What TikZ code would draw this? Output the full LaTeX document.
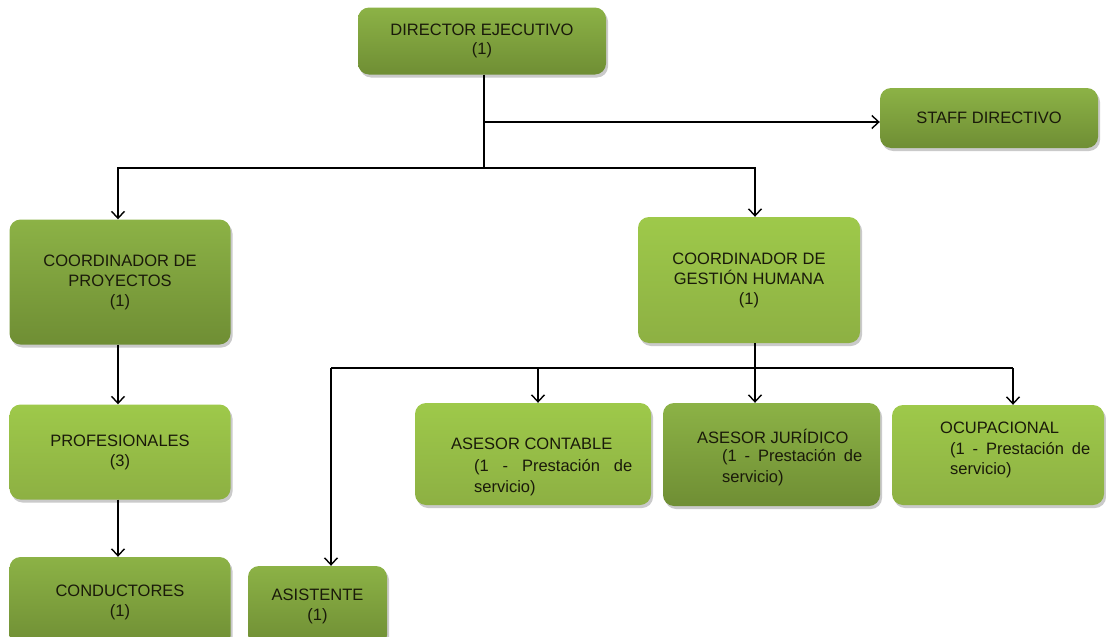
\documentclass[tikz,border=0pt]{standalone}
\usepackage{fontspec}
\setmainfont{Liberation Sans}
\usetikzlibrary{arrows.meta,shadows}
\definecolor{dtop}{HTML}{8CB246}
\definecolor{dmid}{HTML}{78983A}
\definecolor{dbot}{HTML}{6F8E34}
\definecolor{ltop}{HTML}{9EC94A}
\definecolor{lmid}{HTML}{98C046}
\definecolor{lbot}{HTML}{8DB043}
\definecolor{txt}{HTML}{1A1A0A}
\newcommand{\lblfont}{\fontsize{16.5}{20}\selectfont}
\tikzset{
  box/.style={rounded corners=11pt, draw=none, inner sep=0pt, align=center,
    font=\lblfont, text=txt,
    drop shadow={shadow xshift=2pt, shadow yshift=-3pt, fill=black!35, opacity=0.6}},
  darkbox/.style={box, top color=dtop, middle color=dmid, bottom color=dbot},
  lightbox/.style={box, top color=ltop, middle color=lmid, bottom color=lbot},
  conn/.style={line width=1.4pt, black},
  arr/.style={conn, -{Straight Barb[length=7pt,width=13pt,line width=1.4pt]}},
  plain/.style={font=\lblfont, text=txt, inner sep=0pt}
}
\begin{document}
\begin{tikzpicture}[x=1pt,y=-1pt]
\useasboundingbox (0,0) rectangle (1106,637);
\hyphenpenalty=10000
% boxes
\node[darkbox, minimum width=248pt, minimum height=67pt] (dir) at (482,41) {DIRECTOR EJECUTIVO\\[-1pt](1)};
\node[darkbox, minimum width=218pt, minimum height=60pt] (staff) at (989,118) {STAFF DIRECTIVO};
\node[darkbox, minimum width=221pt, minimum height=125pt] (cp) at (120,282) {COORDINADOR DE\\PROYECTOS\\(1)};
\node[lightbox, minimum width=222pt, minimum height=126pt] (cgh) at (749,280) {COORDINADOR DE\\GESTIÓN HUMANA\\(1)};
\node[lightbox, minimum width=221pt, minimum height=95pt] (prof) at (120,452) {PROFESIONALES\\(3)};
\node[darkbox, minimum width=221pt, minimum height=90pt] (cond) at (120,602) {CONDUCTORES\\(1)};
\node[darkbox, minimum width=139pt, minimum height=80pt] (asis) at (317.5,606) {ASISTENTE\\(1)};
\node[lightbox, minimum width=236pt, minimum height=102pt] (ac) at (533,454) {};
\node[darkbox, minimum width=217pt, minimum height=103pt] (aj) at (771.5,454.5) {};
\node[lightbox, minimum width=212pt, minimum height=100pt] (oc) at (998,455) {};
% texts of the advisor boxes
\node[plain, anchor=west] (ac-t) at (451,444) {ASESOR CONTABLE};
\node[plain, anchor=base west] (ac-p) at (474,471) {\parbox[t]{158pt}{\lblfont\baselineskip=21pt (1 - Prestación de servicio)}};
\node[plain, anchor=west] (aj-t) at (697,436) {ASESOR JURÍDICO};
\node[plain, anchor=base west] (aj-p) at (722,461) {\parbox[t]{140pt}{\lblfont\baselineskip=21pt (1 - Prestación de servicio)}};
\node[plain, anchor=west] (oc-t) at (940,428) {OCUPACIONAL};
\node[plain, anchor=base west] (oc-p) at (950,454) {\parbox[t]{140pt}{\lblfont\baselineskip=20pt (1 - Prestación de servicio)}};
% junctions
\coordinate (j1) at (484,168);
\coordinate (j2) at (484,122);
\coordinate (h1) at (331,368);
\coordinate (h2) at (1013,368);
\coordinate (hc) at (538,368);
\coordinate (hj) at (755,368);
% connectors
\draw[conn] ([xshift=2pt]dir.south) -- (j1);
\draw[arr] (j2) -- (j2 -| staff.west);
\draw[arr] (j1) -| ([xshift=-2pt]cp.north);
\draw[arr] (j1) -| ([xshift=6pt]cgh.north);
\draw[arr] ([xshift=-2pt]cp.south) -- ([xshift=-2pt]prof.north);
\draw[arr] ([xshift=-2pt]prof.south) -- ([xshift=-2pt]cond.north);
\draw[conn] ([xshift=6pt]cgh.south) -- (hj);
\draw[arr] (hj) -- (hj |- aj.north);
\draw[conn] (h1) -- (h2);
\draw[arr] (h1) -- (h1 |- asis.north);
\draw[arr] (hc) -- (hc |- ac.north);
\draw[arr] (h2) -- (h2 |- oc.north);
\end{tikzpicture}
\end{document}
